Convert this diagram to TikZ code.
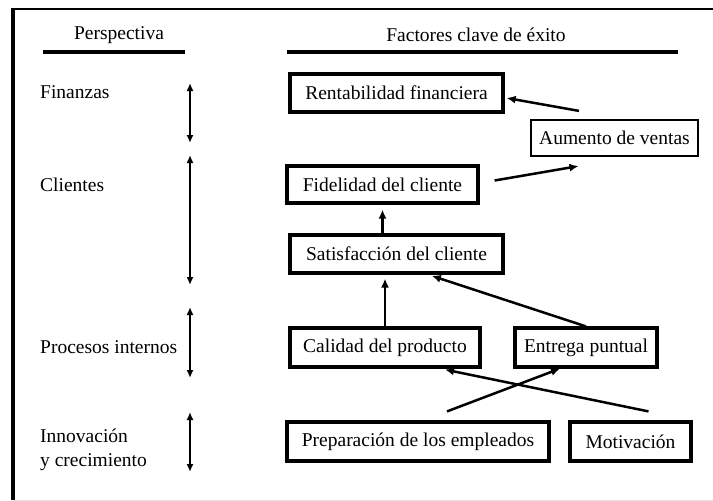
\documentclass[tikz,border=0pt]{standalone}
\usepackage{fontspec}
\setmainfont{Liberation Serif}
\usetikzlibrary{arrows.meta}

\tikzset{
	txt/.style={inner sep=0pt, font=\fontsize{19.5}{24}\selectfont},
	persp/.style={txt, anchor=west, align=left},
	factor/.style={txt, draw, line width=3.2pt},
	link/.style={-{Latex[length=9pt,width=8pt]}, line width=2.5pt},
}

\begin{document}
\begin{tikzpicture}[x=1pt,y=-1pt,>={Latex[length=8pt,width=7pt]}]
	\useasboundingbox (0,0) rectangle (713,501);
	% marco
	\draw[line width=3.5pt] (13,500) -- (13,9);
	\draw[line width=1.8pt] (11.3,9) -- (713,9);
	\draw[gray!20, line width=1pt] (13,500) -- (713,500);

	% cabecera
	\node[txt] (hpersp) at (119,35) {Perspectiva};
	\node[txt] (hfact) at (476,35) {Factores clave de éxito};
	\draw[line width=3.2pt] (43,52) -- (185,52);
	\draw[line width=3.2pt] (287,52) -- (678,52);

	% perspectivas
	\node[persp] (fin) at (40,92) {Finanzas};
	\node[persp] (cli) at (40,185) {Clientes};
	\node[persp] (proc) at (40,347) {Procesos internos};
	\node[persp] (inno) at (40,450) {Innovación\\y crecimiento};
	\foreach \a/\b in {83/143,155/285,307/378,412/472} {
		\draw[<->, line width=2pt] (190,\a) -- (190,\b);
	}

	% factores clave
	\node[factor, minimum width=213pt, minimum height=38pt] (rent) at (396.5,93) {Rentabilidad financiera};
	\node[factor, line width=2.2pt, minimum width=167pt, minimum height=36pt] (aum) at (614.5,138) {Aumento de ventas};
	\node[factor, minimum width=191pt, minimum height=37pt] (fid) at (382.5,184.5) {Fidelidad del cliente};
	\node[factor, minimum width=213pt, minimum height=38pt] (satis) at (396.5,254) {Satisfacción del cliente};
	\node[factor, minimum width=190pt, minimum height=39pt] (cal) at (385,347.5) {Calidad del producto};
	\node[factor, minimum width=142pt, minimum height=39pt] (ent) at (586,347.5) {Entrega puntual};
	\node[factor, minimum width=262pt, minimum height=39pt] (prep) at (418,441.5) {Preparación de los empleados};
	\node[factor, minimum width=121pt, minimum height=39pt] (mot) at (630.5,441.5) {Motivación};

	% relaciones
	\draw[link] ([xshift=-35.5pt,yshift=8pt]aum.north) -- ([xshift=2pt,yshift=-5pt]rent.east);
	\draw[link] ([xshift=15pt,yshift=4pt]fid.east) -- ([xshift=-36pt,yshift=-9pt]aum.south);
	\draw[link, shorten >=5pt] (satis.north -| fid.south) -- (fid.south);
	\draw[link, shorten >=4pt] (cal.north) -- (cal.north |- satis.south);
	\draw[link, shorten >=4pt] (ent.north) -- ([xshift=31.5pt]satis.south);
	\draw[link] ([xshift=18pt,yshift=9pt]mot.north) -- ([xshift=60pt,yshift=-1pt]cal.south);
	\draw[link] ([xshift=29pt,yshift=9pt]prep.north) -- ([xshift=-26pt]ent.south);
\end{tikzpicture}
\end{document}
